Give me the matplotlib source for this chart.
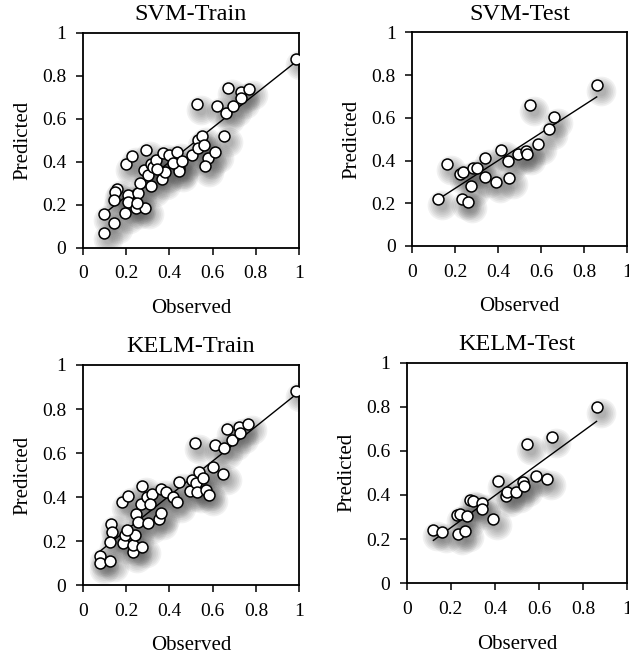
import numpy as np
import matplotlib
matplotlib.use("Agg")
import matplotlib.pyplot as plt
from matplotlib.transforms import offset_copy

plt.rcParams['font.family'] = ['Liberation Serif', 'DejaVu Serif']

titles = ["SVM-Train", "SVM-Test", "KELM-Train", "KELM-Test"]
tick_vals = [0, 0.2, 0.4, 0.6, 0.8, 1]
tick_labels = ["0", "0.2", "0.4", "0.6", "0.8", "1"]

svm_train_obs = [0.986, 0.099, 0.099, 0.143, 0.157, 0.149, 0.143, 0.194, 0.200, 0.226,
                 0.211, 0.211, 0.246, 0.257, 0.265, 0.290, 0.291, 0.284, 0.314, 0.303,
                 0.314, 0.327, 0.339, 0.365, 0.381, 0.373, 0.401, 0.434, 0.447, 0.447,
                 0.419, 0.458, 0.504, 0.527, 0.535, 0.550, 0.535, 0.561, 0.581, 0.565,
                 0.612, 0.619, 0.655, 0.673, 0.661, 0.696, 0.730, 0.730, 0.769, 0.250,
                 0.342]
svm_train_pred = [0.879, 0.158, 0.067, 0.113, 0.273, 0.260, 0.222, 0.160, 0.388, 0.428,
                  0.245, 0.214, 0.183, 0.253, 0.299, 0.186, 0.456, 0.361, 0.288, 0.338,
                  0.388, 0.377, 0.408, 0.319, 0.350, 0.439, 0.431, 0.443, 0.369, 0.357,
                  0.392, 0.405, 0.431, 0.667, 0.501, 0.519, 0.465, 0.478, 0.416, 0.378,
                  0.443, 0.657, 0.518, 0.741, 0.626, 0.660, 0.722, 0.695, 0.736, 0.206,
                  0.366]

svm_test_obs = [0.859, 0.121, 0.160, 0.222, 0.238, 0.230, 0.261, 0.272, 0.284, 0.300,
                0.339, 0.339, 0.390, 0.413, 0.447, 0.450, 0.494, 0.530, 0.533, 0.548,
                0.584, 0.637, 0.660]
svm_test_pred = [0.754, 0.218, 0.385, 0.337, 0.348, 0.220, 0.207, 0.282, 0.363, 0.363,
                 0.410, 0.321, 0.298, 0.451, 0.398, 0.320, 0.429, 0.445, 0.429, 0.660,
                 0.477, 0.548, 0.604]

kelm_train_obs = [0.985, 0.080, 0.080, 0.126, 0.129, 0.137, 0.126, 0.183, 0.211, 0.188,
                  0.195, 0.231, 0.234, 0.242, 0.272, 0.246, 0.257, 0.272, 0.268, 0.295,
                  0.318, 0.311, 0.303, 0.352, 0.362, 0.360, 0.385, 0.418, 0.434, 0.445,
                  0.495, 0.503, 0.518, 0.523, 0.526, 0.538, 0.557, 0.569, 0.585, 0.603,
                  0.611, 0.649, 0.652, 0.665, 0.688, 0.723, 0.726, 0.762, 0.203]
kelm_train_pred = [0.883, 0.132, 0.098, 0.111, 0.277, 0.242, 0.197, 0.379, 0.406, 0.192,
                   0.227, 0.152, 0.182, 0.227, 0.171, 0.323, 0.288, 0.450, 0.368, 0.402,
                   0.414, 0.368, 0.280, 0.300, 0.329, 0.435, 0.424, 0.402, 0.379, 0.467,
                   0.427, 0.477, 0.647, 0.462, 0.424, 0.515, 0.488, 0.432, 0.409, 0.538,
                   0.636, 0.503, 0.623, 0.709, 0.659, 0.717, 0.692, 0.732, 0.250]

kelm_test_obs = [0.860, 0.121, 0.162, 0.226, 0.242, 0.234, 0.264, 0.275, 0.287, 0.299,
                 0.340, 0.340, 0.392, 0.415, 0.450, 0.453, 0.495, 0.528, 0.533, 0.547,
                 0.584, 0.634, 0.660]
kelm_test_pred = [0.800, 0.241, 0.230, 0.309, 0.314, 0.223, 0.238, 0.306, 0.377, 0.374,
                  0.362, 0.338, 0.289, 0.465, 0.397, 0.415, 0.415, 0.460, 0.441, 0.629,
                  0.487, 0.472, 0.664]

panels = [
    (svm_train_obs, svm_train_pred, [0.1315, 0.6224, 0.3440, 0.3277]),
    (svm_test_obs, svm_test_pred, [0.6555, 0.6250, 0.3413, 0.3258]),
    (kelm_train_obs, kelm_train_pred, [0.1315, 0.1082, 0.3445, 0.3354]),
    (kelm_test_obs, kelm_test_pred, [0.6466, 0.1110, 0.3510, 0.3364]),
]

fig = plt.figure(figsize=(6.29, 6.56), dpi=100)

for title, (obs, pred, rect) in zip(titles, panels):
    ax = fig.add_axes(rect)
    x = np.asarray(obs)
    y = np.asarray(pred)

    # soft drop shadow under each marker
    shadow_tr = offset_copy(ax.transData, fig=fig, x=4, y=-6, units='dots')
    for k in range(7):
        ax.scatter(x, y, s=(7 + 2.4 * k) ** 2, color='0.3', alpha=0.075,
                   linewidths=0, transform=shadow_tr, zorder=1)

    # least-squares trend line over the observed range
    slope, intercept = np.polyfit(x, y, 1)
    xs = np.array([x.min(), x.max()])
    ax.plot(xs, slope * xs + intercept, color='black', lw=1.0, zorder=2)

    ax.scatter(x, y, s=62, facecolor='white', edgecolor='black',
               linewidths=1.1, zorder=3)

    ax.set_xlim(0, 1)
    ax.set_ylim(0, 1)
    ax.set_xticks(tick_vals)
    ax.set_xticklabels(tick_labels)
    ax.set_yticks(tick_vals)
    ax.set_yticklabels(tick_labels)
    ax.tick_params(direction='out', length=4.8, width=1.1, labelsize=14,
                   colors='black')
    ax.tick_params(axis='x', pad=8)
    ax.tick_params(axis='y', pad=7)
    for sp in ax.spines.values():
        sp.set_linewidth(1.3)
    ax.set_title(title, fontsize=17.5, pad=9)
    ax.set_xlabel("Observed", fontsize=15, labelpad=12)
    ax.set_ylabel("Predicted", fontsize=15, labelpad=7)

fig.savefig("out.png", dpi=100)
